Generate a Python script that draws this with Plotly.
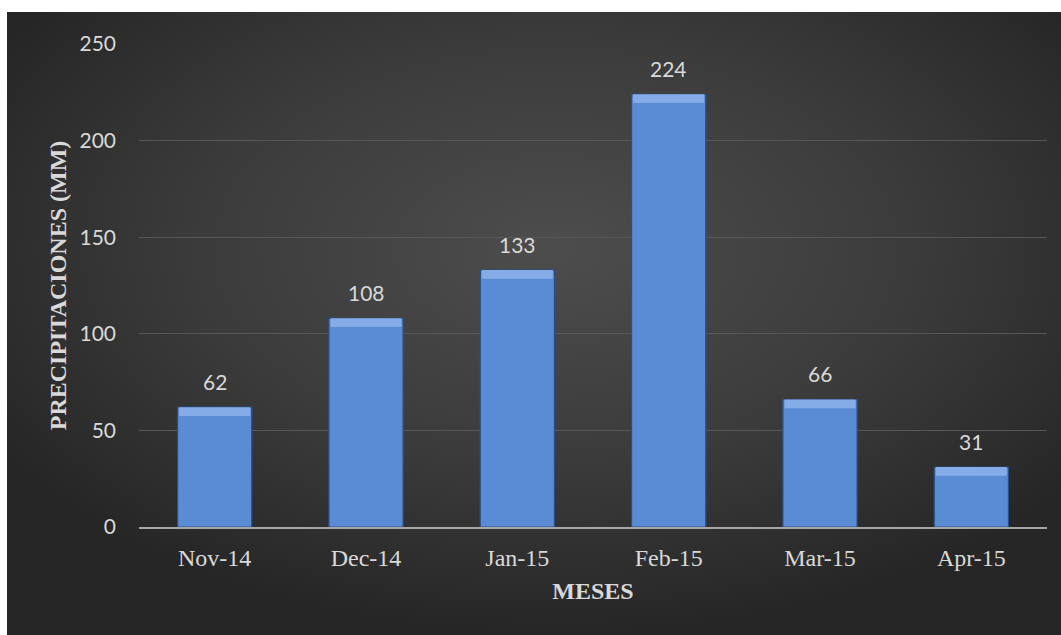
import plotly.graph_objects as go
import urllib.parse

months = ["Nov-14", "Dec-14", "Jan-15", "Feb-15", "Mar-15", "Apr-15"]
precip = [62, 108, 133, 224, 66, 31]
y_ticks = [0, 50, 100, 150, 200, 250]

W, H = 1061, 635
L, R, T, B = 139, 14, 44, 108
pw, ph = W - L - R, H - T - B

svg = (
    "<svg xmlns='http://www.w3.org/2000/svg' width='1054' height='623' preserveAspectRatio='none'>"
    "<defs><radialGradient id='g' cx='0.52' cy='0.38' r='0.62'>"
    "<stop offset='0' stop-color='#4d4d4d'/><stop offset='0.55' stop-color='#3b3b3b'/>"
    "<stop offset='1' stop-color='#262626'/></radialGradient></defs>"
    "<rect width='1054' height='623' fill='url(#g)'/></svg>"
)
src = "data:image/svg+xml;charset=utf-8," + urllib.parse.quote(svg)

sans = "Lato, Open Sans, sans-serif"
serif = "Liberation Serif, Times New Roman, serif"
light = "#d9d9d9"

bevel = 4.5
fig = go.Figure()
fig.add_trace(go.Bar(
    x=months, y=precip, width=0.49,
    marker=dict(color="#5a8cd6", line=dict(color="#2c4f86", width=1.2)),
    hoverinfo="skip",
))
fig.add_trace(go.Bar(
    x=months, y=[bevel] * len(precip), base=[v - bevel for v in precip], width=0.47,
    marker=dict(color="#85ace6", line=dict(width=0)), hoverinfo="skip",
))

for m, v in zip(months, precip):
    fig.add_annotation(x=m, y=v, text=str(v), showarrow=False, yanchor="bottom",
                       yshift=11, font=dict(family=sans, size=21, color=light))

fig.add_layout_image(dict(
    source=src, xref="paper", yref="paper",
    x=(7 - L) / pw, y=(H - B - 12) / ph,
    sizex=(W - 7) / pw, sizey=(H - 12) / ph,
    sizing="stretch", layer="below", xanchor="left", yanchor="top",
))

fig.update_layout(
    width=W, height=H, margin=dict(l=L, r=R, t=T, b=B),
    paper_bgcolor="white", plot_bgcolor="rgba(0,0,0,0)",
    barmode="overlay", showlegend=False,
    xaxis=dict(
        type="category", showgrid=False, showline=True, linecolor="#a6a6a6", linewidth=2,
        ticks="", tickfont=dict(family=serif, size=24, color=light),
        ticklabelstandoff=8,
        title=dict(text="<b>MESES</b>", standoff=12,
                   font=dict(family=serif, size=24, color=light)),
    ),
    yaxis=dict(
        range=[0, 250], tickvals=y_ticks, showgrid=True, gridcolor="#575757", gridwidth=1,
        zeroline=False, ticks="", ticklabelstandoff=22,
        tickfont=dict(family=sans, size=21, color=light),
        title=dict(text="<b>PRECIPITACIONES (MM)</b>", standoff=6,
                   font=dict(family=serif, size=24, color=light)),
    ),
)

fig.write_html("out.html")
